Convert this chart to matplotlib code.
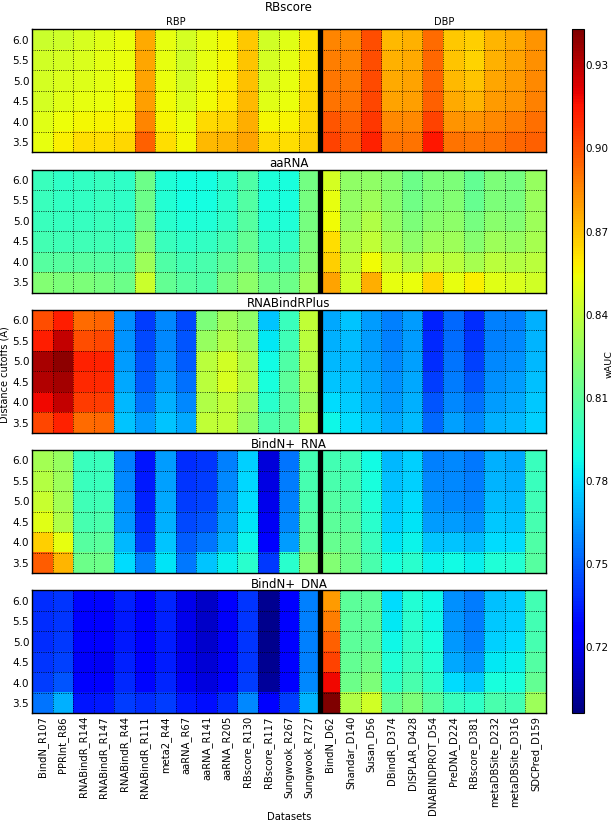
import numpy as np
import matplotlib
matplotlib.use("Agg")
import matplotlib.pyplot as plt

# ---------------------------------
# Data (wAUC), one list per dataset, cutoffs 6.0 -> 3.5
# ---------------------------------
datasets = ["BindN_R107", "PPRInt_R86", "RNABindR_R144", "RNABindR_R147",
            "RNABindR_R44", "RNABindR_R111", "meta2_R44", "aaRNA_R67",
            "aaRNA_R141", "aaRNA_R205", "RBscore_R130", "RBscore_R117",
            "Sungwook_R267", "Sungwook_R727", "BindN_D62", "Shandar_D140",
            "Susan_D56", "DBindR_D374", "DISPLAR_D428", "DNABINDPROT_D54",
            "PreDNA_D224", "RBscore_D381", "metaDBSite_D232",
            "metaDBSite_D316", "SDCPred_D159"]
cutoffs = ["6.0", "5.5", "5.0", "4.5", "4.0", "3.5"]
methods = ["RBscore", "aaRNA", "RNABindRPlus", "BindN+_RNA", "BindN+_DNA"]

rbscore = [
    [0.843, 0.845, 0.846, 0.846, 0.850, 0.852],
    [0.844, 0.846, 0.848, 0.850, 0.854, 0.858],
    [0.847, 0.848, 0.849, 0.852, 0.856, 0.862],
    [0.850, 0.851, 0.851, 0.853, 0.857, 0.862],
    [0.853, 0.853, 0.854, 0.856, 0.858, 0.864],
    [0.876, 0.877, 0.878, 0.879, 0.886, 0.895],
    [0.852, 0.852, 0.853, 0.855, 0.857, 0.862],
    [0.846, 0.845, 0.846, 0.849, 0.853, 0.856],
    [0.852, 0.852, 0.853, 0.855, 0.863, 0.872],
    [0.856, 0.856, 0.858, 0.860, 0.865, 0.873],
    [0.868, 0.869, 0.870, 0.872, 0.875, 0.878],
    [0.845, 0.846, 0.847, 0.850, 0.856, 0.863],
    [0.850, 0.851, 0.852, 0.853, 0.857, 0.862],
    [0.861, 0.861, 0.862, 0.863, 0.864, 0.866],
    [0.886, 0.888, 0.889, 0.890, 0.898, 0.903],
    [0.884, 0.886, 0.888, 0.889, 0.894, 0.897],
    [0.900, 0.900, 0.901, 0.902, 0.906, 0.912],
    [0.872, 0.874, 0.876, 0.878, 0.885, 0.890],
    [0.874, 0.876, 0.878, 0.879, 0.885, 0.890],
    [0.892, 0.893, 0.894, 0.895, 0.903, 0.915],
    [0.868, 0.869, 0.872, 0.876, 0.882, 0.890],
    [0.866, 0.865, 0.869, 0.873, 0.882, 0.889],
    [0.873, 0.874, 0.877, 0.880, 0.885, 0.890],
    [0.876, 0.878, 0.880, 0.882, 0.888, 0.893],
    [0.882, 0.883, 0.885, 0.887, 0.891, 0.895],
]

aarna = [
    [0.800, 0.800, 0.800, 0.803, 0.808, 0.822],
    [0.797, 0.798, 0.799, 0.802, 0.808, 0.820],
    [0.798, 0.798, 0.799, 0.802, 0.808, 0.820],
    [0.799, 0.799, 0.800, 0.802, 0.807, 0.818],
    [0.797, 0.797, 0.798, 0.800, 0.806, 0.815],
    [0.815, 0.815, 0.816, 0.822, 0.830, 0.843],
    [0.792, 0.793, 0.795, 0.800, 0.806, 0.812],
    [0.789, 0.789, 0.792, 0.797, 0.803, 0.808],
    [0.789, 0.789, 0.792, 0.798, 0.805, 0.806],
    [0.795, 0.795, 0.797, 0.803, 0.810, 0.818],
    [0.806, 0.807, 0.808, 0.812, 0.818, 0.825],
    [0.791, 0.791, 0.793, 0.798, 0.805, 0.815],
    [0.790, 0.790, 0.792, 0.797, 0.806, 0.815],
    [0.817, 0.818, 0.818, 0.820, 0.823, 0.830],
    [0.846, 0.852, 0.855, 0.862, 0.866, 0.878],
    [0.826, 0.827, 0.829, 0.834, 0.840, 0.845],
    [0.826, 0.830, 0.835, 0.840, 0.855, 0.875],
    [0.823, 0.824, 0.827, 0.832, 0.842, 0.852],
    [0.815, 0.816, 0.820, 0.825, 0.835, 0.853],
    [0.820, 0.820, 0.824, 0.830, 0.840, 0.864],
    [0.820, 0.822, 0.825, 0.830, 0.838, 0.852],
    [0.812, 0.813, 0.818, 0.823, 0.833, 0.858],
    [0.820, 0.820, 0.824, 0.830, 0.838, 0.850],
    [0.818, 0.819, 0.822, 0.828, 0.836, 0.848],
    [0.828, 0.829, 0.830, 0.833, 0.838, 0.845],
]

rnabindrplus = [
    [0.900, 0.913, 0.934, 0.932, 0.918, 0.902],
    [0.913, 0.928, 0.940, 0.935, 0.928, 0.912],
    [0.892, 0.900, 0.912, 0.910, 0.905, 0.892],
    [0.894, 0.902, 0.912, 0.910, 0.905, 0.893],
    [0.762, 0.763, 0.765, 0.768, 0.772, 0.775],
    [0.742, 0.745, 0.748, 0.750, 0.755, 0.765],
    [0.760, 0.760, 0.762, 0.765, 0.770, 0.775],
    [0.745, 0.748, 0.750, 0.754, 0.760, 0.768],
    [0.820, 0.828, 0.838, 0.838, 0.835, 0.840],
    [0.830, 0.835, 0.845, 0.847, 0.840, 0.840],
    [0.826, 0.830, 0.835, 0.837, 0.832, 0.828],
    [0.775, 0.783, 0.788, 0.790, 0.795, 0.805],
    [0.800, 0.802, 0.806, 0.810, 0.808, 0.810],
    [0.840, 0.838, 0.836, 0.834, 0.830, 0.836],
    [0.768, 0.770, 0.772, 0.775, 0.780, 0.787],
    [0.775, 0.773, 0.772, 0.774, 0.777, 0.780],
    [0.765, 0.765, 0.766, 0.768, 0.770, 0.775],
    [0.758, 0.758, 0.760, 0.762, 0.764, 0.768],
    [0.765, 0.765, 0.766, 0.768, 0.770, 0.773],
    [0.735, 0.737, 0.738, 0.742, 0.748, 0.752],
    [0.752, 0.753, 0.755, 0.757, 0.760, 0.766],
    [0.738, 0.740, 0.743, 0.748, 0.754, 0.760],
    [0.758, 0.758, 0.760, 0.762, 0.765, 0.770],
    [0.758, 0.760, 0.762, 0.765, 0.768, 0.772],
    [0.770, 0.771, 0.772, 0.774, 0.776, 0.778],
]

bindn_rna = [
    [0.832, 0.836, 0.842, 0.850, 0.866, 0.896],
    [0.828, 0.830, 0.832, 0.835, 0.852, 0.873],
    [0.800, 0.800, 0.802, 0.804, 0.808, 0.815],
    [0.800, 0.800, 0.802, 0.805, 0.809, 0.815],
    [0.758, 0.760, 0.762, 0.764, 0.772, 0.780],
    [0.732, 0.733, 0.735, 0.738, 0.742, 0.758],
    [0.765, 0.766, 0.768, 0.770, 0.775, 0.782],
    [0.738, 0.740, 0.742, 0.745, 0.750, 0.756],
    [0.740, 0.742, 0.744, 0.748, 0.755, 0.775],
    [0.758, 0.760, 0.762, 0.765, 0.770, 0.785],
    [0.778, 0.779, 0.780, 0.782, 0.786, 0.795],
    [0.716, 0.718, 0.720, 0.722, 0.726, 0.741],
    [0.755, 0.757, 0.758, 0.760, 0.765, 0.795],
    [0.803, 0.804, 0.805, 0.807, 0.810, 0.822],
    [0.803, 0.805, 0.807, 0.810, 0.813, 0.822],
    [0.802, 0.803, 0.805, 0.808, 0.812, 0.815],
    [0.788, 0.790, 0.792, 0.795, 0.800, 0.805],
    [0.772, 0.774, 0.776, 0.778, 0.782, 0.790],
    [0.778, 0.778, 0.780, 0.782, 0.786, 0.795],
    [0.758, 0.760, 0.762, 0.765, 0.775, 0.786],
    [0.760, 0.760, 0.760, 0.765, 0.775, 0.788],
    [0.756, 0.757, 0.758, 0.762, 0.772, 0.785],
    [0.770, 0.771, 0.773, 0.776, 0.780, 0.792],
    [0.768, 0.770, 0.772, 0.775, 0.780, 0.793],
    [0.800, 0.800, 0.802, 0.804, 0.806, 0.808],
]

bindn_dna = [
    [0.738, 0.738, 0.738, 0.740, 0.742, 0.755],
    [0.740, 0.740, 0.741, 0.743, 0.748, 0.770],
    [0.728, 0.727, 0.727, 0.723, 0.725, 0.732],
    [0.728, 0.727, 0.727, 0.722, 0.725, 0.733],
    [0.735, 0.733, 0.733, 0.735, 0.737, 0.742],
    [0.727, 0.726, 0.726, 0.726, 0.728, 0.738],
    [0.736, 0.735, 0.734, 0.734, 0.736, 0.742],
    [0.720, 0.720, 0.720, 0.720, 0.722, 0.733],
    [0.712, 0.712, 0.713, 0.715, 0.717, 0.730],
    [0.724, 0.723, 0.723, 0.723, 0.727, 0.738],
    [0.740, 0.740, 0.740, 0.740, 0.742, 0.760],
    [0.700, 0.699, 0.699, 0.700, 0.702, 0.727],
    [0.724, 0.724, 0.724, 0.725, 0.727, 0.742],
    [0.758, 0.758, 0.758, 0.758, 0.760, 0.771],
    [0.880, 0.888, 0.895, 0.903, 0.918, 0.943],
    [0.810, 0.810, 0.810, 0.812, 0.815, 0.835],
    [0.810, 0.810, 0.810, 0.815, 0.820, 0.845],
    [0.780, 0.783, 0.787, 0.792, 0.797, 0.813],
    [0.793, 0.795, 0.797, 0.800, 0.805, 0.820],
    [0.787, 0.787, 0.790, 0.793, 0.797, 0.810],
    [0.762, 0.763, 0.764, 0.768, 0.780, 0.800],
    [0.757, 0.757, 0.758, 0.763, 0.776, 0.797],
    [0.774, 0.776, 0.778, 0.783, 0.790, 0.805],
    [0.777, 0.778, 0.780, 0.785, 0.790, 0.803],
    [0.803, 0.803, 0.804, 0.807, 0.812, 0.830],
]

panels = [rbscore, aarna, rnabindrplus, bindn_rna, bindn_dna]
cbar_ticks = [0.72, 0.75, 0.78, 0.81, 0.84, 0.87, 0.90, 0.93]

# ---------------------------------
# Figure layout
# ---------------------------------
fig = plt.figure(figsize=(6.16, 8.26), dpi=100)
vmin, vmax = 0.696, 0.943
left, width, height = 0.0519, 0.834, 0.1489
n_rbp = 14

for k, (name, vals) in enumerate(zip(methods, panels)):
    grid = np.array(vals).T
    bottom = 1 - (29.3 + 140.25 * k + 123) / 826
    ax = fig.add_axes([left, bottom, width, height])
    im = ax.imshow(grid, cmap="jet", vmin=vmin, vmax=vmax,
                   aspect="auto", interpolation="nearest")
    ax.axvline(n_rbp - 0.5, color="black", lw=3.8)

    ax.set_yticks(np.arange(len(cutoffs)))
    ax.set_yticklabels(cutoffs, fontsize=7.5)
    ax.set_xticks(np.arange(len(datasets)))
    if k == len(methods) - 1:
        ax.set_xticklabels(datasets, rotation=90, fontsize=7.2)
        ax.set_xlabel("Datasets", fontsize=7.2)
        ax.xaxis.set_label_coords(0.5, -0.80)
    else:
        ax.set_xticklabels([])
    ax.set_xticks(np.arange(-0.5, len(datasets), 1), minor=True)
    ax.set_yticks(np.arange(-0.5, len(cutoffs), 1), minor=True)
    ax.grid(which="minor", color="black", linestyle=":", linewidth=0.6)
    ax.tick_params(which="both", length=0, pad=2)
    for s in ax.spines.values():
        s.set_linewidth(1.0)

    if k == 0:
        ax.set_title(name, fontsize=8.5, pad=13)
        ax.text(6.5, -0.6, "RBP", ha="center", va="bottom", fontsize=7)
        ax.text(19.55, -0.6, "DBP", ha="center", va="bottom", fontsize=7)
    else:
        ax.set_title(name, fontsize=8.5, pad=2)
    if k == 2:
        ax.set_ylabel("Distance cutoffs (Å)", fontsize=7)
        ax.yaxis.set_label_coords(-0.042, 0.47)

# ---------------------------------
# Colorbar
# ---------------------------------
cax = fig.add_axes([0.9286, 0.1364, 0.019, 0.828])
cb = fig.colorbar(im, cax=cax, ticks=cbar_ticks)
cb.ax.set_yticklabels(["%.2f" % t for t in cbar_ticks], fontsize=7.5)
cb.ax.tick_params(length=0, pad=1)
cb.set_label("wAUC", fontsize=6.8)
cb.ax.yaxis.set_label_coords(2.8, 0.51)

fig.savefig("out.png", dpi=100)
